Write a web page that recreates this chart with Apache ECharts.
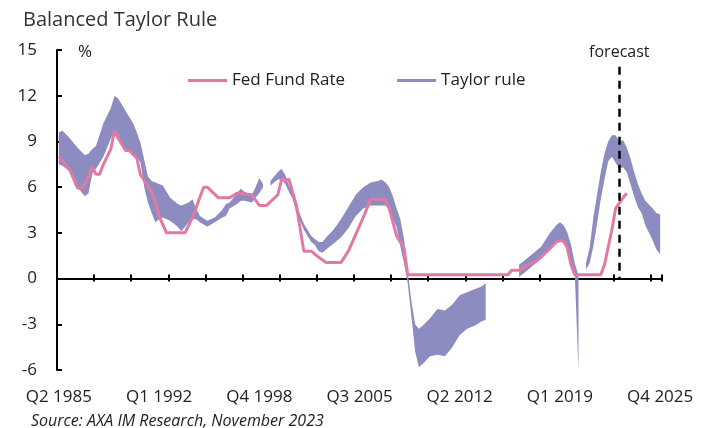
<!DOCTYPE html>
<html><head><meta charset="utf-8">
<script src="https://cdn.jsdelivr.net/npm/echarts@6/dist/echarts.min.js"></script>
<style>html,body{margin:0;padding:0;background:#fff}#c{width:711px;height:428px}</style>
</head><body><div id="c"></div>
<script>
// Quarterly categories Q2 1985 .. Q4 2025
const categories = [];
for (let k = 0; k < 163; k++) {
  const q = (1 + k) % 4 + 1;
  const y = 1985 + Math.floor((1 + k) / 4);
  categories.push('Q' + q + ' ' + y);
}

// Fed Fund Rate (category index, value %)
const fedIdx = [0,1,3,5,6,7,9,10,11,12,14,15,16,18,19,21,22,24,25,26,27,29,34,36,39,40,43,46,48,52,54,56,59,60,62,64,66,68,70,72,76,78,80,82,84,88,89,91,93,94,121,122,124,126,129,132,134,135,136,137,138,139,146,147,149,150,152,153];
const fedVal = [8.0,7.7,7.1,5.95,5.9,6.2,7.3,6.85,6.85,7.5,8.5,9.7,9.2,8.4,8.4,7.9,6.8,6.1,5.7,5.0,4.1,3.0,3.0,4.0,6.0,6.0,5.3,5.3,5.6,5.5,4.8,4.8,5.5,6.5,6.5,4.8,1.8,1.8,1.4,1.05,1.05,1.8,2.9,4.0,5.2,5.2,4.6,2.8,2.0,0.25,0.25,0.55,0.55,0.85,1.2,1.9,2.4,2.5,2.45,2.0,0.9,0.25,0.25,0.9,3.2,4.6,5.3,5.6];

// Taylor rule range (category index, low, high); null = gap
const bandIdx  = [0,1,3,5,7,8,9,10,12,14,15,16,17,18,20,21,22,23,24,25,26,27,28,30,32,33,34,35,36,37,38,40,42,44,45,46,48,49,50,52,53,54,55,56,57,58,59,60,61,62,63,64,65,66,67,68,69,70,71,72,74,76,78,80,82,84,86,87,88,89,90,91,92,93,94,95,96,97,98,100,102,104,106,108,110,112,114,115,116,124,126,128,130,132,134,135,136,137,138,139,140,141,142,143,144,145,146,147,148,149,150,151,152,153,154,155,156,157,158,160,161,162];
const bandHigh = [9.6,9.7,9.2,8.6,8.1,8.2,8.5,8.7,10.2,11.2,12.0,11.8,11.4,11.0,10.2,9.6,8.9,7.8,6.7,6.4,6.3,6.2,6.1,5.3,4.9,4.8,4.9,5.0,5.2,4.6,4.1,3.8,4.0,4.5,4.9,5.0,5.6,5.9,5.7,5.5,6.0,6.6,6.2,null,6.4,6.7,7.0,7.2,6.8,6.1,5.6,4.9,4.2,3.6,3.2,2.8,2.6,2.4,2.4,2.7,3.2,3.9,4.7,5.5,6.0,6.3,6.4,6.5,6.3,6.0,5.4,4.6,3.9,2.6,0.5,-1.5,-3.0,-3.3,-3.1,-2.6,-2.0,-2.1,-1.7,-1.1,-0.9,-0.7,-0.5,-0.3,null,0.9,1.3,1.7,2.1,2.9,3.5,3.7,3.5,3.0,2.2,1.0,0.2,null,1.0,2.0,4.0,5.5,7.0,8.2,9.0,9.4,9.4,9.0,9.1,8.6,7.9,7.0,6.2,5.6,5.1,4.6,4.3,4.2];
const bandLow  = [7.5,7.4,7.0,6.0,5.4,5.6,6.9,7.2,8.0,9.2,9.6,9.4,8.8,8.4,8.2,8.0,7.6,6.0,5.0,4.3,3.7,3.9,4.0,3.8,3.4,3.1,3.4,3.7,3.9,3.9,3.7,3.4,3.7,4.0,4.1,4.6,4.9,5.1,5.1,5.0,5.3,5.6,6.0,null,6.1,6.3,6.5,6.5,6.2,5.7,5.2,4.3,3.8,3.2,2.8,2.4,2.2,1.8,1.7,1.9,2.3,2.7,3.3,4.1,4.6,4.8,4.8,4.8,4.8,4.5,3.9,3.4,2.1,1.0,-0.3,-2.5,-4.8,-5.8,-5.6,-5.1,-5.0,-5.1,-4.5,-3.7,-3.3,-3.1,-2.8,-2.7,null,0.1,0.5,0.9,1.3,1.9,2.3,2.5,2.5,2.1,1.0,0.3,-6.0,null,0.6,1.0,2.1,3.6,5.2,6.5,7.7,8.0,7.6,7.2,7.3,7.0,6.2,5.4,4.7,4.3,3.5,2.5,1.9,1.6];

const yTicks = { min: -6, max: 15, step: 3 };
const forecastAt = 151;

const FONT = 'Open Sans';
const PINK = '#E07AA2';
const BAND = '#8C8CC0';

const chart = echarts.init(document.getElementById('c'), null, { renderer: 'canvas' });

const fedData = fedIdx.map((x, k) => [x, fedVal[k]]);

chart.setOption({
  animation: false,
  backgroundColor: '#fff',
  textStyle: { fontFamily: FONT },
  title: [
    { text: 'Balanced Taylor Rule', left: 18, top: 5,
      textStyle: { fontFamily: FONT, fontSize: 20, fontWeight: 'normal', color: '#333' } },
    { text: 'Source: AXA IM Research, November 2023', left: 26, top: 408,
      textStyle: { fontFamily: FONT, fontSize: 16, fontStyle: 'italic', fontWeight: 'normal', color: '#222' } }
  ],
  legend: {
    left: 183, top: 67, icon: 'rect', itemWidth: 39, itemHeight: 3, itemGap: 52,
    textStyle: { fontFamily: FONT, fontSize: 17, color: '#222' },
    data: ['Fed Fund Rate', 'Taylor rule']
  },
  grid: { left: 57, right: 49, top: 50, bottom: 58, containLabel: false },
  xAxis: [
    { type: 'category', data: categories, boundaryGap: true, position: 'bottom',
      axisLine: { show: false, onZero: false }, axisTick: { show: false },
      axisLabel: { interval: 26, margin: 19, fontSize: 17, color: '#222', fontFamily: FONT },
      splitLine: { show: false } },
    { type: 'category', data: categories, boundaryGap: true, position: 'bottom',
      axisLine: { show: true, onZero: true, onZeroAxisIndex: 0, lineStyle: { color: '#000', width: 2 } },
      axisTick: { show: true, interval: 9, length: 3, lineStyle: { color: '#000', width: 2 } },
      axisLabel: { show: false }, splitLine: { show: false } },
    { type: 'category', data: categories, boundaryGap: true, position: 'top',
      axisLine: { show: true, onZero: true, onZeroAxisIndex: 0, lineStyle: { color: '#000', width: 2 } },
      axisTick: { show: true, interval: 9, length: 4, lineStyle: { color: '#000', width: 2 } },
      axisLabel: { show: false }, splitLine: { show: false } }
  ],
  yAxis: [{
    type: 'value', min: yTicks.min, max: yTicks.max, interval: yTicks.step,
    axisLine: { show: true, onZero: false, lineStyle: { color: '#000', width: 2 } },
    axisTick: { show: true, inside: true, length: 5, lineStyle: { color: '#000', width: 2 } },
    axisLabel: { margin: 20, fontSize: 17, color: '#222', fontFamily: FONT },
    splitLine: { show: false },
    name: '%', nameLocation: 'end', nameGap: -2,
    nameTextStyle: { align: 'left', verticalAlign: 'middle', padding: [0, 0, 0, 21], fontSize: 17, color: '#222', fontFamily: FONT }
  }],
  series: [
    {
      name: 'Taylor rule', type: 'custom', xAxisIndex: 0, yAxisIndex: 0,
      data: [[0, 0]], itemStyle: { color: BAND }, silent: true, z: 2,
      renderItem: function (params, api) {
        if (params.dataIndex !== 0) return;
        const children = [];
        let seg = [];
        const flush = function () {
          if (seg.length > 1) {
            const top = seg.map(p => api.coord([p[0], p[2]]));
            const bot = seg.slice().reverse().map(p => api.coord([p[0], p[1]]));
            children.push({ type: 'polygon', shape: { points: top.concat(bot) }, style: { fill: BAND } });
          }
          seg = [];
        };
        for (let k = 0; k < bandIdx.length; k++) {
          if (bandHigh[k] == null || bandLow[k] == null) flush();
          else seg.push([bandIdx[k], bandLow[k], bandHigh[k]]);
        }
        flush();
        return { type: 'group', children: children };
      }
    },
    {
      name: 'Fed Fund Rate', type: 'line', xAxisIndex: 0, yAxisIndex: 0,
      data: fedData, symbol: 'none', z: 3,
      lineStyle: { color: PINK, width: 3 }, itemStyle: { color: PINK },
      markLine: {
        silent: true, symbol: 'none',
        lineStyle: { color: '#000', type: [8, 6], width: 2.5 },
        label: { show: true, position: 'start', formatter: 'forecast', distance: 6,
                 color: '#222', fontSize: 16, fontFamily: FONT },
        data: [[{ coord: [categories[forecastAt], 13.9] }, { coord: [categories[forecastAt], 0] }]]
      }
    }
  ]
});
</script>
</body></html>
